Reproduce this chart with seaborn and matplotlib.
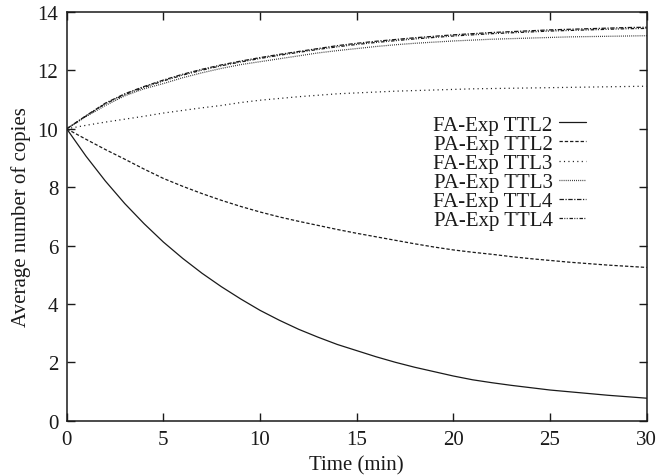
import matplotlib
matplotlib.use("Agg")
import matplotlib.pyplot as plt
import seaborn as sns
import pandas as pd

# Time axis (minutes)
time_min = list(range(0, 31))

fa_ttl2 = [10.00, 9.06, 8.21, 7.44, 6.75, 6.12, 5.56, 5.05, 4.59, 4.17,
           3.78, 3.44, 3.13, 2.86, 2.61, 2.40, 2.19, 2.00, 1.83, 1.68,
           1.53, 1.40, 1.30, 1.21, 1.13, 1.05, 0.99, 0.93, 0.87, 0.82, 0.77]
pa_ttl2 = [10.00, 9.64, 9.29, 8.96, 8.62, 8.30, 8.03, 7.78, 7.55, 7.34,
           7.15, 6.98, 6.83, 6.69, 6.55, 6.42, 6.30, 6.18, 6.06, 5.95,
           5.85, 5.77, 5.70, 5.62, 5.55, 5.49, 5.43, 5.38, 5.33, 5.29, 5.25]
fa_ttl3 = [10.00, 10.12, 10.23, 10.33, 10.43, 10.54, 10.63, 10.72, 10.80, 10.90,
           10.98, 11.04, 11.10, 11.15, 11.20, 11.23, 11.26, 11.29, 11.31, 11.33,
           11.35, 11.37, 11.38, 11.39, 11.40, 11.41, 11.42, 11.43, 11.44, 11.45, 11.46]
pa_ttl3 = [10.00, 10.42, 10.80, 11.13, 11.37, 11.55, 11.75, 11.92, 12.07, 12.20,
           12.30, 12.40, 12.50, 12.60, 12.68, 12.75, 12.82, 12.88, 12.93, 12.97,
           13.01, 13.04, 13.07, 13.09, 13.11, 13.13, 13.15, 13.16, 13.17, 13.18, 13.19]
fa_ttl4 = [10.00, 10.45, 10.88, 11.20, 11.45, 11.67, 11.87, 12.04, 12.19, 12.32,
           12.44, 12.55, 12.65, 12.75, 12.85, 12.93, 13.00, 13.06, 13.12, 13.17,
           13.22, 13.26, 13.30, 13.33, 13.36, 13.39, 13.41, 13.43, 13.45, 13.47, 13.48]
pa_ttl4 = [10.00, 10.44, 10.86, 11.17, 11.42, 11.64, 11.84, 12.01, 12.16, 12.29,
           12.41, 12.52, 12.62, 12.72, 12.81, 12.89, 12.96, 13.02, 13.08, 13.13,
           13.18, 13.22, 13.26, 13.29, 13.32, 13.35, 13.37, 13.39, 13.41, 13.43, 13.44]

series_names = ["FA-Exp TTL2", "PA-Exp TTL2", "FA-Exp TTL3",
                "PA-Exp TTL3", "FA-Exp TTL4", "PA-Exp TTL4"]
series_values = [fa_ttl2, pa_ttl2, fa_ttl3, pa_ttl3, fa_ttl4, pa_ttl4]

x_ticks = [0, 5, 10, 15, 20, 25, 30]
y_ticks = [0, 2, 4, 6, 8, 10, 12, 14]

df = pd.DataFrame({
    "time": [t for _ in series_names for t in time_min],
    "copies": [v for vals in series_values for v in vals],
    "series": [name for name in series_names for _ in time_min],
})

sns.set_style("ticks")
plt.rcParams["font.family"] = ["Liberation Serif", "DejaVu Serif"]
plt.rcParams["lines.scale_dashes"] = False

dash_map = {
    "FA-Exp TTL2": "",
    "PA-Exp TTL2": (2.4, 1.4),
    "FA-Exp TTL3": (0.8, 2.4),
    "PA-Exp TTL3": (0.6, 0.9),
    "FA-Exp TTL4": (3.2, 1.1, 0.9, 1.1),
    "PA-Exp TTL4": (2.5, 1.0, 0.7, 1.0, 0.7, 1.3),
}

fs = 15
fig = plt.figure(figsize=(6.58, 4.77), dpi=100)
ax = fig.add_axes([0.1014, 0.116, 0.8814, 0.8566])

ink = "#1a1a1a"
sns.lineplot(data=df, x="time", y="copies", style="series", style_order=series_names,
             dashes=dash_map, color=ink, linewidth=0.9, ax=ax, legend=True)

ax.set_xlim(0, 30)
ax.set_ylim(0, 14)
ax.set_xticks(x_ticks)
ax.set_yticks(y_ticks)
ax.set_xlabel("Time (min)", fontsize=fs, color=ink, labelpad=5)
ax.set_ylabel("Average number of copies", fontsize=fs, color=ink, labelpad=5)

ax.tick_params(direction="in", length=6, width=1, top=True, right=True,
               labelsize=fs, colors=ink)
ax.tick_params(axis="y", pad=6)
ax.tick_params(axis="x", pad=6.5)
for sp in ax.spines.values():
    sp.set_visible(True)
    sp.set_linewidth(1.1)
    sp.set_color(ink)

handles, labels = ax.get_legend_handles_labels()
leg = ax.legend(handles, labels, loc="upper right", bbox_to_anchor=(0.8953, 0.748),
                frameon=False, markerfirst=False, fontsize=fs,
                handlelength=1.3, handletextpad=0.3, labelspacing=-0.02,
                borderpad=0, borderaxespad=0)
for t in leg.get_texts():
    t.set_color(ink)

fig.savefig("out.png", dpi=100)
